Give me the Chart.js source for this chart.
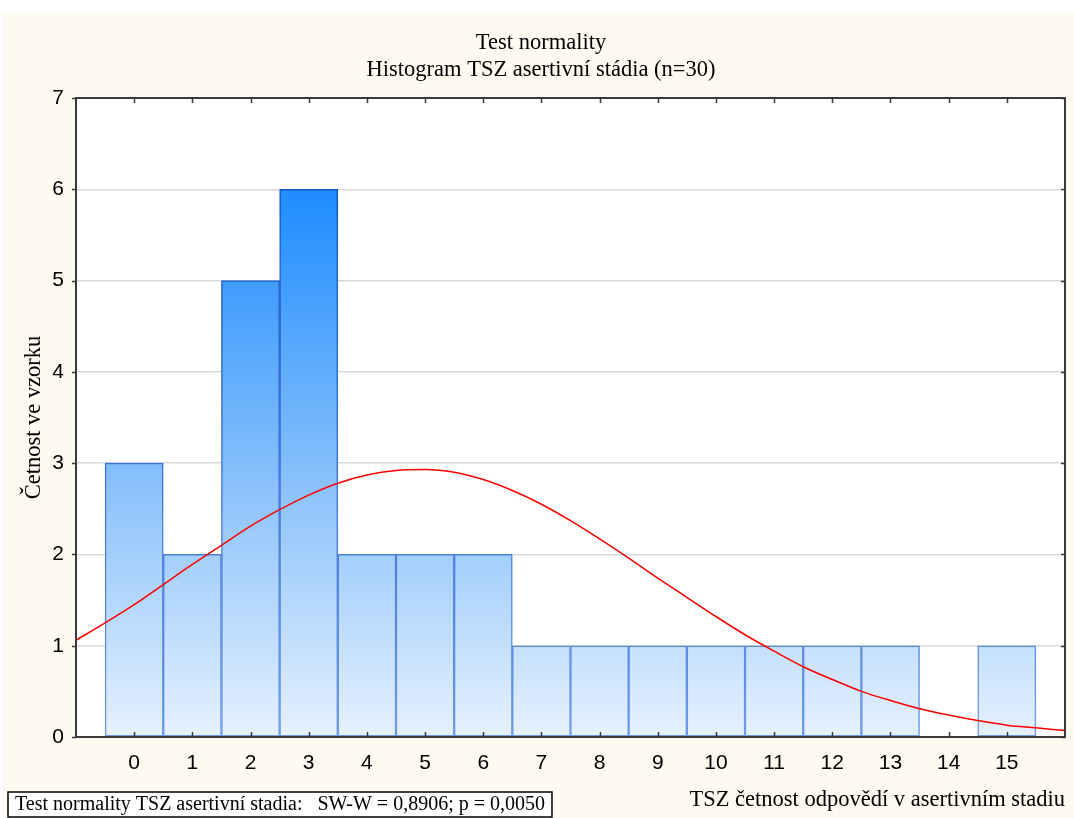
<!DOCTYPE html>
<html><head><meta charset="utf-8">
<script src="https://cdn.jsdelivr.net/npm/chart.js@4.4.0/dist/chart.umd.min.js"></script>
<style>html,body{margin:0;padding:0;background:#fff;overflow:hidden;}</style>
</head><body>
<canvas id="c" width="1074" height="818"></canvas>
<script>
// ---- data ----
const binCenters = [0,1,2,3,4,5,6,7,8,9,10,11,12,13,14,15];
const counts     = [3,2,5,6,2,2,2,1,1,1,1,1,1,1,0,1];
const curveX = [-1,-0.5,0,0.5,1,1.5,2,2.5,3,3.5,4,4.5,5,5.5,6,6.5,7,7.5,8,8.5,9,9.5,10,10.5,11,11.5,12,12.5,13,13.5,14,14.5,15,15.5,16];
const curveY = [1.06,1.25,1.45,1.67,1.89,2.10,2.31,2.49,2.65,2.78,2.87,2.92,2.93,2.90,2.82,2.70,2.55,2.37,2.17,1.96,1.74,1.53,1.32,1.12,0.94,0.77,0.63,0.50,0.40,0.31,0.24,0.18,0.13,0.10,0.07];
const xTickLabels = ['0','1','2','3','4','5','6','7','8','9','10','11','12','13','14','15'];
const yTickLabels = ['0','1','2','3','4','5','6','7'];
const titleLines = ['Test normality','Histogram TSZ asertivní stádia (n=30)'];
const yTitle = 'Četnost ve vzorku';
const xTitle = 'TSZ četnost odpovědí v asertivním stadiu';
const boxText = 'Test normality TSZ asertivní stadia:   SW-W = 0,8906; p = 0,0050';

const SERIF = "'Liberation Serif','Times New Roman',serif";
const SANS = "'Liberation Sans',Arial,sans-serif";

function vGrad(chart, stops) {
  const ys = chart.scales && chart.scales.y;
  if (!ys || !chart.chartArea) return stops[1][1];
  const y0 = ys.getPixelForValue(0), y6 = ys.getPixelForValue(6);
  if (!isFinite(y0) || !isFinite(y6) || y0 === y6) return stops[1][1];
  const g = chart.ctx.createLinearGradient(0, y0, 0, y6);
  stops.forEach(s => g.addColorStop(s[0], s[1]));
  return g;
}

const decor = {
  id: 'decor',
  beforeDraw(chart) {
    const ctx = chart.ctx, a = chart.chartArea;
    ctx.save();
    ctx.fillStyle = '#ffffff';
    ctx.fillRect(0, 0, chart.width, chart.height);
    ctx.fillStyle = '#fefaf0';
    ctx.fillRect(3, 13, chart.width - 3, chart.height - 13);
    ctx.fillStyle = '#ffffff';
    ctx.fillRect(a.left, a.top, a.right - a.left, a.bottom - a.top);
    // titles
    ctx.fillStyle = '#000000';
    ctx.font = '22.5px ' + SERIF;
    ctx.textAlign = 'center';
    ctx.textBaseline = 'middle';
    titleLines.forEach((t, i) => ctx.fillText(t, 541, 43.5 + i * 27));
    ctx.restore();
  },
  afterDraw(chart) {
    const ctx = chart.ctx, a = chart.chartArea;
    const xs = chart.scales.x, ys = chart.scales.y;
    ctx.save();
    ctx.strokeStyle = '#3a3a3a';
    ctx.lineWidth = 2;
    ctx.strokeRect(a.left, a.top, a.right - a.left, a.bottom - a.top);
    ctx.lineWidth = 1.5;
    ctx.beginPath();
    for (let v = 0; v <= 15; v++) {
      const px = Math.round(xs.getPixelForValue(v)) + 0.5;
      ctx.moveTo(px, a.bottom); ctx.lineTo(px, a.bottom - 5);
      ctx.moveTo(px, a.top); ctx.lineTo(px, a.top + 5);
    }
    for (let v = 0; v <= 7; v++) {
      const py = Math.round(ys.getPixelForValue(v)) + 0.5;
      ctx.moveTo(a.left, py); ctx.lineTo(a.left - 4, py);
      ctx.moveTo(a.right, py); ctx.lineTo(a.right - 4, py);
    }
    ctx.stroke();
    // stats box
    ctx.font = '20px ' + SERIF;
    const w = ctx.measureText(boxText).width;
    ctx.fillStyle = '#ffffff';
    ctx.fillRect(8, 792, w + 14, 25);
    ctx.strokeStyle = '#000000';
    ctx.lineWidth = 1.5;
    ctx.strokeRect(8, 792, w + 14, 25);
    ctx.fillStyle = '#000000';
    ctx.textBaseline = 'middle';
    ctx.textAlign = 'left';
    ctx.fillText(boxText, 15, 805);
    ctx.restore();
  }
};

new Chart(document.getElementById('c'), {
  type: 'bar',
  data: {
    datasets: [
      {
        type: 'line',
        data: curveX.map((x, i) => ({x: x, y: curveY[i]})),
        borderColor: '#ff0000',
        borderWidth: 1.5,
        pointRadius: 0,
        tension: 0.4,
        cubicInterpolationMode: 'monotone',
        fill: false,
        order: 0
      },
      {
        type: 'bar',
        data: binCenters.map((x, i) => ({x: x, y: counts[i] === 0 ? null : counts[i]})),
        backgroundColor: (c) => vGrad(c.chart, [[0, '#e6f1fe'], [0.5, '#82bdfb'], [1, '#1e8cff']]),
        borderColor: (c) => vGrad(c.chart, [[0, '#6e9ae6'], [0.5, '#3a72dc'], [1, '#1254c8']]),
        borderWidth: 1.5,
        borderSkipped: false,
        barPercentage: 1,
        categoryPercentage: 1,
        order: 1
      }
    ]
  },
  options: {
    responsive: false,
    animation: false,
    devicePixelRatio: 1,
    layout: { padding: { left: 0, right: 9, top: 98, bottom: 0 } },
    plugins: {
      legend: { display: false },
      tooltip: { enabled: false },
      title: { display: false }
    },
    scales: {
      x: {
        type: 'linear',
        min: -1, max: 16,
        offset: false,
        grid: { display: false, offset: false },
        border: { display: false },
        ticks: {
          stepSize: 1, autoSkip: false, maxRotation: 0, color: '#000',
          font: { family: SANS, size: 21 }, padding: 6,
          callback: (v) => (v >= 0 && v < xTickLabels.length) ? xTickLabels[v] : ''
        },
        title: {
          display: true, text: xTitle, align: 'end', color: '#000',
          font: { family: SERIF, size: 22.5 }, padding: { top: 8, bottom: 4 }
        },
        afterFit: (s) => { s.height = 81; }
      },
      y: {
        min: 0, max: 7,
        grid: { color: '#d9d9d9', lineWidth: 1.5, drawTicks: true, tickLength: 4, tickColor: 'rgba(0,0,0,0)' },
        border: { display: false },
        ticks: {
          stepSize: 1, color: '#000', padding: 8,
          font: { family: SANS, size: 21 },
          callback: (v) => yTickLabels[v]
        },
        title: {
          display: true, text: yTitle, color: '#000',
          font: { family: SERIF, size: 22.5 }, padding: { top: 21, bottom: 0 }
        },
        afterFit: (s) => { s.width = 76; }
      }
    }
  },
  plugins: [decor]
});
</script>
</body></html>
